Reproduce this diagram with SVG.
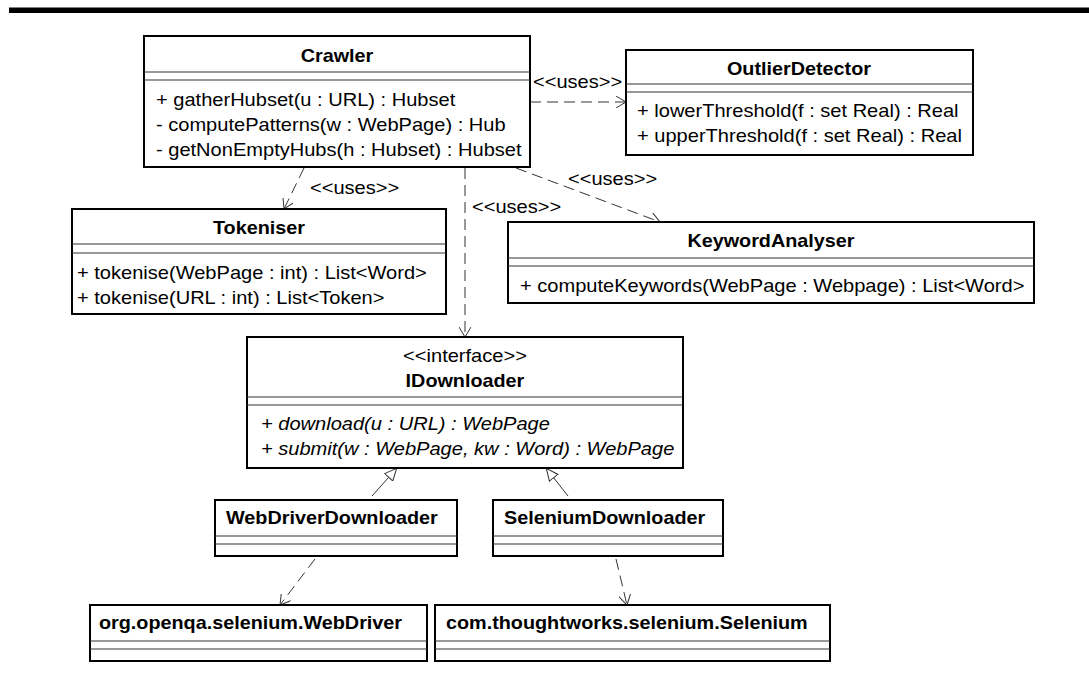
<svg xmlns="http://www.w3.org/2000/svg" width="1089" height="697" viewBox="0 0 1089 697">
  <style>
    text { font-family: "Liberation Sans", Arial, sans-serif; font-size: 18px; fill: #000; transform-box: fill-box; transform: scaleX(1.115); }
    .c { text-anchor: middle; transform-origin: center; }
    .l { transform-origin: left center; }
    .b { font-weight: bold; transform: scaleX(1.1); }
    .i { font-style: italic; }
    .box { fill: #fff; stroke: #000; stroke-width: 2; }
    .sep { stroke: #333; stroke-width: 1.2; }
    .dep { fill: none; stroke: #333; stroke-width: 1; stroke-dasharray: 11 6; marker-end: url(#open); }
    .gen { fill: none; stroke: #333; stroke-width: 1; marker-end: url(#tri); }
  </style>
  <defs>
    <marker id="open" viewBox="0 0 10 12" refX="10" refY="6" markerWidth="10" markerHeight="12" orient="auto" markerUnits="userSpaceOnUse">
      <path d="M0,0 L10,6 L0,12" fill="none" stroke="#333" stroke-width="1"/>
    </marker>
    <marker id="tri" viewBox="0 0 13 12" refX="13" refY="6" markerWidth="13" markerHeight="12" orient="auto" markerUnits="userSpaceOnUse">
      <path d="M0.5,0.5 L12.5,6 L0.5,11.5 Z" fill="#fff" stroke="#333" stroke-width="1"/>
    </marker>
  </defs>

  <rect width="1089" height="697" fill="#fff"/>
  <!-- page header rule -->
  <rect x="9" y="7" width="1080" height="1" fill="#808080"/>
  <rect x="9" y="8" width="1080" height="5" fill="#000"/>

  <!-- connectors -->
  <g id="connectors">
    <line class="dep" x1="530" y1="102" x2="626" y2="102"/>
    <line class="dep" x1="304" y1="168" x2="284" y2="209"/>
    <line class="dep" x1="516" y1="168" x2="660" y2="222"/>
    <line class="dep" x1="465" y1="168" x2="465" y2="337"/>
    <line class="dep" x1="315" y1="559" x2="280" y2="605"/>
    <line class="dep" x1="616" y1="559" x2="627" y2="605"/>
    <line class="gen" x1="372" y1="496" x2="397" y2="468"/>
    <line class="gen" x1="568" y1="496" x2="546" y2="468"/>
    <text class="l" x="533" y="88">&lt;&lt;uses&gt;&gt;</text>
    <text class="l" x="310" y="194">&lt;&lt;uses&gt;&gt;</text>
    <text class="l" x="568" y="185">&lt;&lt;uses&gt;&gt;</text>
    <text class="l" x="472" y="213">&lt;&lt;uses&gt;&gt;</text>
  </g>

  <g id="Crawler">
    <rect class="box" x="144" y="36" width="386" height="131"/>
    <line class="sep" x1="144" y1="72" x2="530" y2="72"/>
    <line class="sep" x1="144" y1="80" x2="530" y2="80"/>
    <text class="c b" x="337" y="62">Crawler</text>
    <text class="l" x="156" y="106">+ gatherHubset(u : URL) : Hubset</text>
    <text class="l" x="156" y="131">- computePatterns(w : WebPage) : Hub</text>
    <text class="l" x="156" y="156">- getNonEmptyHubs(h : Hubset) : Hubset</text>
  </g>

  <g id="OutlierDetector">
    <rect class="box" x="626" y="50" width="347" height="105"/>
    <line class="sep" x1="626" y1="84" x2="973" y2="84"/>
    <line class="sep" x1="626" y1="92" x2="973" y2="92"/>
    <text class="c b" x="799" y="75">OutlierDetector</text>
    <text class="l" x="637" y="117">+ lowerThreshold(f : set Real) : Real</text>
    <text class="l" x="637" y="142">+ upperThreshold(f : set Real) : Real</text>
  </g>

  <g id="Tokeniser">
    <rect class="box" x="72" y="209" width="374" height="105"/>
    <line class="sep" x1="72" y1="244" x2="446" y2="244"/>
    <line class="sep" x1="72" y1="253" x2="446" y2="253"/>
    <text class="c b" x="259" y="234">Tokeniser</text>
    <text class="l" x="77" y="279">+ tokenise(WebPage : int) : List&lt;Word&gt;</text>
    <text class="l" x="77" y="304">+ tokenise(URL : int) : List&lt;Token&gt;</text>
  </g>

  <g id="KeywordAnalyser">
    <rect class="box" x="508" y="222" width="526" height="81"/>
    <line class="sep" x1="508" y1="258" x2="1034" y2="258"/>
    <line class="sep" x1="508" y1="266" x2="1034" y2="266"/>
    <text class="c b" x="771" y="247">KeywordAnalyser</text>
    <text class="l" x="520" y="292">+ computeKeywords(WebPage : Webpage) : List&lt;Word&gt;</text>
  </g>

  <g id="IDownloader">
    <rect class="box" x="247" y="337" width="436" height="131"/>
    <line class="sep" x1="247" y1="397" x2="683" y2="397"/>
    <line class="sep" x1="247" y1="405" x2="683" y2="405"/>
    <text class="c" x="465" y="362">&lt;&lt;interface&gt;&gt;</text>
    <text class="c b" x="465" y="387">IDownloader</text>
    <text class="l i" x="261" y="430">+ download(u : URL) : WebPage</text>
    <text class="l i" x="261" y="455">+ submit(w : WebPage, kw : Word) : WebPage</text>
  </g>

  <g id="WebDriverDownloader">
    <rect class="box" x="215" y="500" width="242" height="56"/>
    <line class="sep" x1="215" y1="536" x2="457" y2="536"/>
    <line class="sep" x1="215" y1="544" x2="457" y2="544"/>
    <text class="l b" x="226" y="524">WebDriverDownloader</text>
  </g>

  <g id="SeleniumDownloader">
    <rect class="box" x="493" y="500" width="230" height="56"/>
    <line class="sep" x1="493" y1="536" x2="723" y2="536"/>
    <line class="sep" x1="493" y1="544" x2="723" y2="544"/>
    <text class="l b" x="504" y="524">SeleniumDownloader</text>
  </g>

  <g id="WebDriver">
    <rect class="box" x="90" y="605" width="337" height="56"/>
    <line class="sep" x1="90" y1="641" x2="427" y2="641"/>
    <line class="sep" x1="90" y1="649" x2="427" y2="649"/>
    <text class="l b" x="99" y="629">org.openqa.selenium.WebDriver</text>
  </g>

  <g id="Selenium">
    <rect class="box" x="435" y="605" width="395" height="56"/>
    <line class="sep" x1="435" y1="641" x2="830" y2="641"/>
    <line class="sep" x1="435" y1="649" x2="830" y2="649"/>
    <text class="l b" x="446" y="629">com.thoughtworks.selenium.Selenium</text>
  </g>
</svg>
